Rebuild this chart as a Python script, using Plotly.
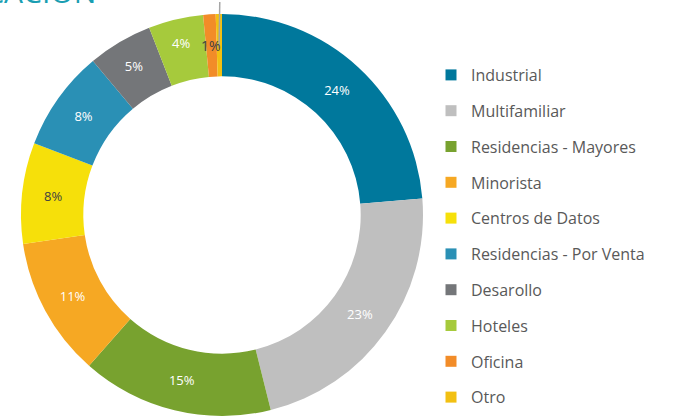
import math
import plotly.graph_objects as go

categories = ["Industrial", "Multifamiliar", "Residencias - Mayores", "Minorista",
              "Centros de Datos", "Residencias - Por Venta", "Desarollo", "Hoteles",
              "Oficina", "Otro"]
values = [23.7, 22.4, 15.4, 11.2, 8.1, 8.1, 5.2, 4.4, 1.0, 0.5]
labels_text = ["24%", "23%", "15%", "11%", "8%", "8%", "5%", "4%", "", ""]
small_label = "1%"
colors = ["#00789C", "#BFBFBF", "#78A22F", "#F6A823", "#F6E00A", "#2A90B5",
          "#747679", "#A6CA3C", "#F28C28", "#F2C012"]
text_colors = ["white", "white", "white", "white", "#404040", "white",
               "white", "white", "#404040", "#404040"]

W, H = 673, 416
cx, r = 222, 201
hole = 0.69
dom_y = [0, 2 * r / H]
cy = H - r  # pixels from top

fig = go.Figure()
fig.add_trace(go.Pie(
    labels=categories, values=values, sort=False, direction="clockwise",
    rotation=0, hole=hole, text=labels_text, textinfo="text",
    textposition="inside", insidetextorientation="horizontal",
    marker=dict(colors=colors, line=dict(color="white", width=0)),
    textfont=dict(family="Open Sans", size=13, color=text_colors),
    showlegend=False, hoverinfo="label+percent",
    domain=dict(x=[(cx - r) / W, (cx + r) / W], y=dom_y),
))

# label for the two smallest slices, placed from their cumulative angle
total = sum(values)
start = sum(values[:-2]) / total * 360
end = 360.0
mid = (start + end) / 2 - 1.0
rm = r * (1 + hole) / 2
lx = cx + rm * math.sin(math.radians(mid))
ly = cy - rm * math.cos(math.radians(mid))
fig.add_annotation(text=small_label, x=lx / W, y=1 - ly / H, xref="paper", yref="paper",
                   xanchor="center", yanchor="middle",
                   showarrow=False, font=dict(family="Open Sans", size=14, color="#404040"))
# leader line toward the last slice
ang_last = (sum(values[:-1]) / total * 360 + 360) / 2 + 0.3
x0 = lx + 8; y0 = ly + 3
x1 = cx + (r + 12) * math.sin(math.radians(ang_last))
y1 = cy - (r + 12) * math.cos(math.radians(ang_last))
fig.add_shape(type="line", xref="paper", yref="paper", x0=x0 / W, y0=1 - y0 / H,
              x1=x1 / W, y1=1 - y1 / H, line=dict(color="#A6A6A6", width=1.5))

for name, c in zip(categories, colors):
    fig.add_trace(go.Scatter(
        x=[None], y=[None], mode="markers", name=name, legendgroup=name,
        marker=dict(symbol="square", size=11, color=c),
        showlegend=True, hoverinfo="skip",
    ))

fig.add_annotation(text="CLASIFICACIÓN", x=98 / W, xref="paper", xanchor="right",
                   y=1, yref="paper", yanchor="bottom", yshift=-14, showarrow=False,
                   font=dict(family="Open Sans", size=30, color="#1A9EB2"))

fig.update_layout(
    width=W, height=H, margin=dict(l=0, r=0, t=0, b=0),
    paper_bgcolor="white", plot_bgcolor="white",
    xaxis=dict(visible=False), yaxis=dict(visible=False),
    legend=dict(x=431 / W, y=(H - 58) / H, xanchor="left", yanchor="top",
                font=dict(family="Open Sans", size=16, color="#595959"),
                tracegroupgap=12, itemwidth=30, bgcolor="rgba(0,0,0,0)"),
)
fig.write_html("out.html", config={"displayModeBar": False},
               post_script="document.body.style.margin='0px';")
